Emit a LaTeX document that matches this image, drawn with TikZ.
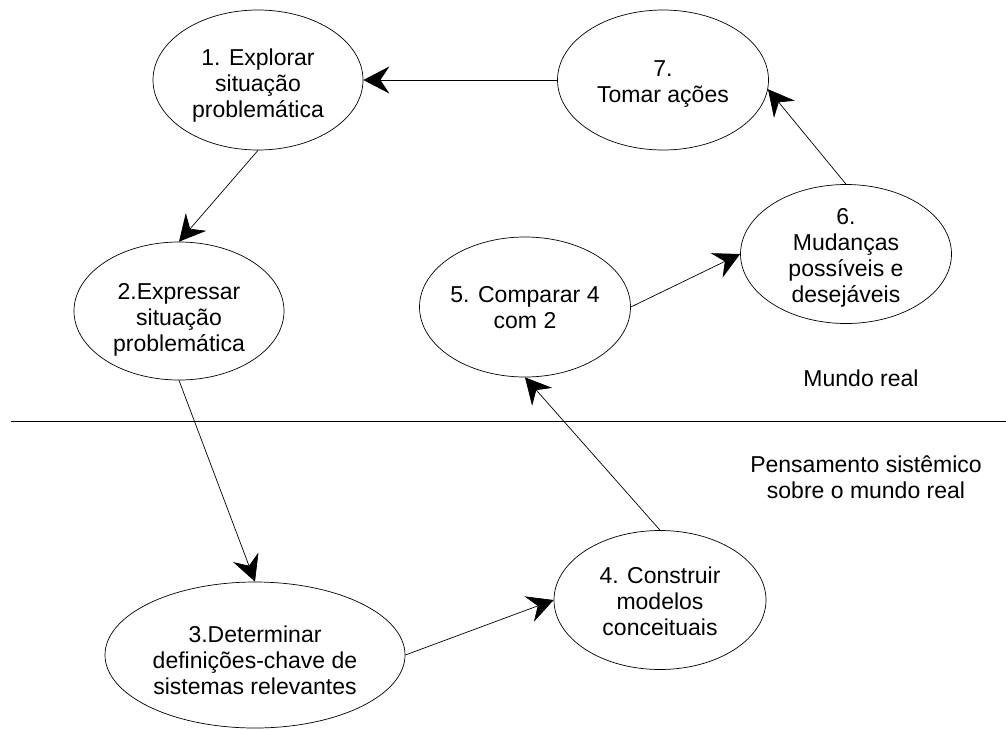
\documentclass[tikz,border=0pt]{standalone}
\usepackage{fontspec}
\setmainfont{Liberation Sans}
\usetikzlibrary{shapes.geometric,arrows.meta}
\begin{document}
\begin{tikzpicture}[x=1pt,y=-1pt,
  stage/.style={ellipse,draw,line width=0.7pt,inner sep=0pt},
  txt/.style={align=center,inner sep=0pt,font=\fontsize{23}{26}\selectfont},
  flow/.style={line width=0.7pt,-{Stealth[length=26pt,width=27pt,inset=9pt]}},
  note/.style={align=center,font=\fontsize{23}{26}\selectfont}]
\useasboundingbox (0,0) rectangle (1006,729);

% stages of the cycle
\node[stage,minimum width=210pt,minimum height=140pt,
  label={[txt,yshift=-6pt]center:{1. Explorar\\situação\\problemática}}] (n1) at (258,80) {};
\node[stage,minimum width=211pt,minimum height=140pt,
  label={[txt,yshift=-4pt]center:{7.\\Tomar ações}}] (n7) at (663,80) {};
\node[stage,minimum width=211pt,minimum height=139pt,
  label={[txt,yshift=-4pt]center:{6.\\Mudanças\\possíveis e\\desejáveis}}] (n6) at (846,254) {};
\node[stage,minimum width=211pt,minimum height=140pt,
  label={[txt,yshift=-1pt]center:{5. Comparar 4\\com 2}}] (n5) at (525,307) {};
\node[stage,minimum width=210pt,minimum height=138pt,
  label={[txt,yshift=-9pt]center:{2.Expressar\\situação\\problemática}}] (n2) at (179,311) {};
\node[stage,minimum width=300pt,minimum height=146pt,
  label={[txt,yshift=-5pt]center:{3.Determinar\\definições-chave de\\sistemas relevantes}}] (n3) at (255,655) {};
\node[stage,minimum width=212pt,minimum height=139pt,
  label={[txt,yshift=-1pt]center:{4. Construir\\modelos\\conceituais}}] (n4) at (660,600) {};

% divider between the two worlds
\coordinate (divL) at (11,421);
\coordinate (divR) at (1006,421);
\draw[line width=0.7pt] (divL) -- (divR);

\node[note] (real) at (861,378) {Mundo real};
\node[note] (sys) at (866,477) {Pensamento sistêmico\\sobre o mundo real};

% connectors
\draw[flow] (n7.west) -- (n1.east);
\draw[flow] (n1.south) -- (n2.north);
\draw[flow] (n2.south) -- (n3.north);
\draw[flow] (n3.east) -- (n4.west);
\draw[flow] (n4.north) -- (n5.south);
\draw[flow] (n5.east) -- (n6.west);
\draw[flow] (n6.north) -- (n7.-5);
\end{tikzpicture}
\end{document}
